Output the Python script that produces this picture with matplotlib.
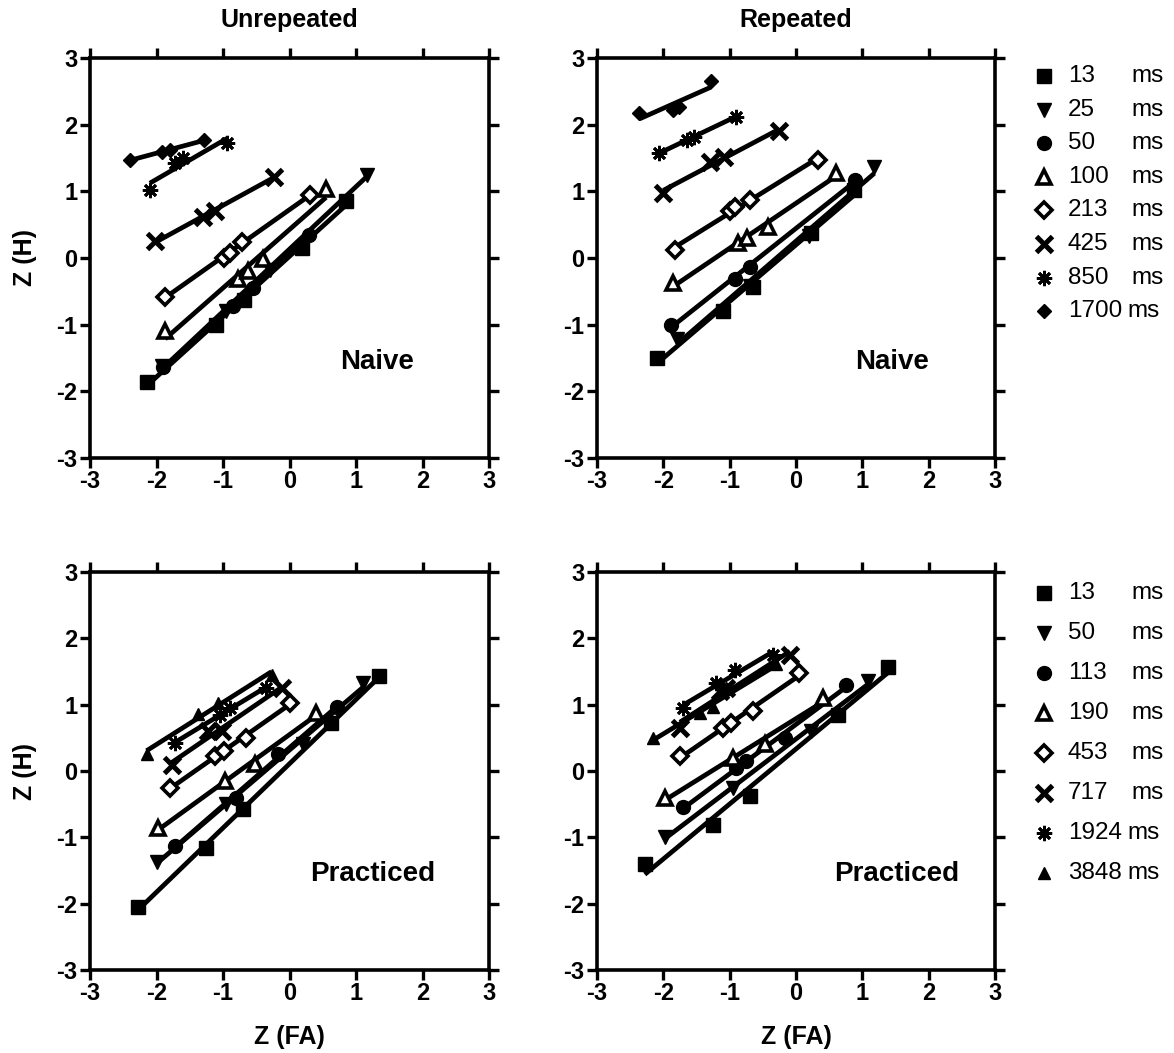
import numpy as np
import matplotlib
matplotlib.use("Agg")
import matplotlib.pyplot as plt

plt.rcParams["font.family"] = ["Liberation Sans", "DejaVu Sans"]

# Durations (ms) shown in each legend
naive_durations = ["13", "25", "50", "100", "213", "425", "850", "1700"]
practiced_durations = ["13", "50", "113", "190", "453", "717", "1924", "3848"]

# z(FA), z(H) operating points per duration: Unrepeated / Naive
unrep_naive_x = [
    [-2.14, -1.10, -0.68, 0.19, 0.85],
    [-1.92, -0.95, -0.30, 1.16],
    [-1.90, -0.85, -0.55, 0.30],
    [-1.87, -0.78, -0.62, -0.40, 0.55],
    [-1.87, -0.98, -0.90, -0.72, 0.31],
    [-2.02, -1.30, -1.12, -0.24],
    [-2.10, -1.72, -1.60, -0.94],
    [-2.40, -1.92, -1.80, -1.28],
]
unrep_naive_y = [
    [-1.86, -1.00, -0.63, 0.15, 0.86],
    [-1.62, -0.80, -0.18, 1.25],
    [-1.64, -0.72, -0.45, 0.35],
    [-1.10, -0.32, -0.20, -0.02, 1.04],
    [-0.58, 0.00, 0.08, 0.24, 0.95],
    [0.25, 0.62, 0.70, 1.22],
    [1.02, 1.42, 1.50, 1.73],
    [1.47, 1.59, 1.62, 1.77],
]

# Repeated / Naive
rep_naive_x = [
    [-2.10, -1.10, -0.65, 0.23, 0.88],
    [-1.80, -0.70, 0.20, 1.18],
    [-1.88, -0.92, -0.70, 0.89],
    [-1.85, -0.88, -0.74, -0.42, 0.60],
    [-1.83, -1.00, -0.92, -0.70, 0.33],
    [-2.00, -1.30, -1.08, -0.25],
    [-2.07, -1.64, -1.54, -0.91],
    [-2.36, -1.86, -1.76, -1.28],
]
rep_naive_y = [
    [-1.50, -0.80, -0.43, 0.37, 1.02],
    [-1.22, -0.42, 0.33, 1.36],
    [-1.00, -0.32, -0.13, 1.17],
    [-0.38, 0.22, 0.30, 0.47, 1.28],
    [0.12, 0.70, 0.76, 0.87, 1.47],
    [0.97, 1.44, 1.52, 1.90],
    [1.57, 1.77, 1.82, 2.12],
    [2.17, 2.22, 2.27, 2.65],
]

# Unrepeated / Practiced
unrep_prac_x = [
    [-2.28, -1.25, -0.70, 0.63, 1.35],
    [-2.00, -0.95, 0.20, 1.10],
    [-1.72, -0.80, -0.17, 0.72],
    [-1.97, -0.97, -0.52, 0.40],
    [-1.80, -1.12, -0.98, -0.65, 0.00],
    [-1.77, -1.22, -1.02, -0.12],
    [-1.72, -1.05, -0.90, -0.35],
    [-2.15, -1.38, -1.08, -0.27],
]
unrep_prac_y = [
    [-2.05, -1.16, -0.58, 0.73, 1.43],
    [-1.37, -0.50, 0.40, 1.32],
    [-1.13, -0.40, 0.25, 0.97],
    [-0.86, -0.15, 0.10, 0.88],
    [-0.25, 0.22, 0.30, 0.50, 1.03],
    [0.09, 0.60, 0.60, 1.25],
    [0.42, 0.85, 0.95, 1.25],
    [0.25, 0.86, 1.02, 1.45],
]

# Repeated / Practiced
rep_prac_x = [
    [-2.28, -1.25, -0.70, 0.63, 1.38],
    [-1.98, -0.95, 0.23, 1.08],
    [-1.70, -0.90, -0.75, -0.17, 0.75],
    [-1.97, -0.95, -0.47, 0.40],
    [-1.75, -1.10, -0.98, -0.65, 0.04],
    [-1.75, -1.15, -1.05, -0.09],
    [-1.70, -1.20, -0.92, -0.35],
    [-2.15, -1.45, -1.25, -0.30],
]
rep_prac_y = [
    [-1.40, -0.82, -0.38, 0.85, 1.57],
    [-1.00, -0.25, 0.60, 1.35],
    [-0.55, 0.05, 0.15, 0.50, 1.30],
    [-0.40, 0.20, 0.40, 1.10],
    [0.22, 0.65, 0.72, 0.90, 1.47],
    [0.65, 1.20, 1.25, 1.75],
    [0.95, 1.32, 1.52, 1.75],
    [0.50, 0.88, 0.97, 1.62],
]

ticks = [-3, -2, -1, 0, 1, 2, 3]

ASTER = (8, 2, 0)
# marker, size, filled, edge width
naive_styles = [
    ("s", 10, True, 1.0),
    ("v", 10, True, 1.0),
    ("o", 10, True, 1.0),
    ("^", 10, False, 2.6),
    ("D", 8.5, False, 2.6),
    ("x", 11, False, 3.6),
    (ASTER, 11, False, 2.0),
    ("D", 7, True, 1.0),
]
practiced_styles = naive_styles[:7] + [("^", 9, True, 1.0)]

W, H = 1174, 1053
fig = plt.figure(figsize=(W / 100, H / 100), dpi=100)


def box(x0, y0, x1, y1):
    return [x0 / W, 1 - y1 / H, (x1 - x0) / W, (y1 - y0) / H]


panels = [
    (box(90, 58, 489, 458), unrep_naive_x, unrep_naive_y, naive_styles, "Naive", 1.31),
    (box(597, 58, 995, 458), rep_naive_x, rep_naive_y, naive_styles, "Naive", 1.45),
    (box(90, 572, 489, 970), unrep_prac_x, unrep_prac_y, practiced_styles, "Practiced", 1.25),
    (box(597, 572, 995, 970), rep_prac_x, rep_prac_y, practiced_styles, "Practiced", 1.52),
]

axes = []
for rect, xs, ys, styles, tag, tagx in panels:
    ax = fig.add_axes(rect)
    axes.append(ax)
    for x, y, (m, ms, filled, mew) in zip(xs, ys, styles):
        x = np.asarray(x)
        y = np.asarray(y)
        slope, icpt = np.polyfit(x, y, 1)
        xl = np.array([x.min(), x.max()])
        ax.plot(xl, slope * xl + icpt, color="black", lw=3.4, zorder=2,
                solid_capstyle="butt")
        ax.plot(x, y, linestyle="none", marker=m, markersize=ms,
                markerfacecolor="black" if filled else "white",
                markeredgecolor="black", markeredgewidth=mew, zorder=3)
    ax.set_xlim(-3, 3)
    ax.set_ylim(-3, 3)
    ax.set_xticks(ticks)
    ax.set_yticks(ticks)
    ax.set_xticklabels([str(t) for t in ticks], fontsize=17, fontweight="bold")
    ax.set_yticklabels([str(t) for t in ticks], fontsize=17, fontweight="bold")
    ax.tick_params(direction="out", length=7, width=2.4, top=True, right=True,
                   pad=2)
    for sp in ax.spines.values():
        sp.set_linewidth(2.6)
    ax.text(tagx, -1.56, tag, fontsize=20, fontweight="bold", ha="center",
            va="center")

axes[0].set_title("Unrepeated", fontsize=18, fontweight="bold", pad=22)
axes[1].set_title("Repeated", fontsize=18, fontweight="bold", pad=22)
for ax in (axes[0], axes[2]):
    ax.set_ylabel("Z (H)", fontsize=18, fontweight="bold", labelpad=14)
for ax in (axes[2], axes[3]):
    ax.set_xlabel("Z (FA)", fontsize=18, fontweight="bold", labelpad=14)


def draw_key(labels, styles, y0, dy):
    # duration key to the right of the Repeated panels, in pixel positions
    for i, (lab, (m, ms, filled, mew)) in enumerate(zip(labels, styles)):
        yp = y0 + i * dy
        fy = 1 - yp / H
        fig.lines.append(matplotlib.lines.Line2D(
            [1044 / W], [fy], transform=fig.transFigure, linestyle="none",
            marker=m, markersize=ms,
            markerfacecolor="black" if filled else "white",
            markeredgecolor="black", markeredgewidth=mew))
        fig.text(1068 / W, fy, lab, fontsize=17.5, ha="left", va="center")
        fig.text(1131 / W if len(lab) < 4 else 1127 / W, fy, "ms",
                 fontsize=17.5, ha="left", va="center")


draw_key(naive_durations, naive_styles, 76, 33.6)
draw_key(practiced_durations, practiced_styles, 593, 40.0)

fig.savefig("out.png", dpi=100)
